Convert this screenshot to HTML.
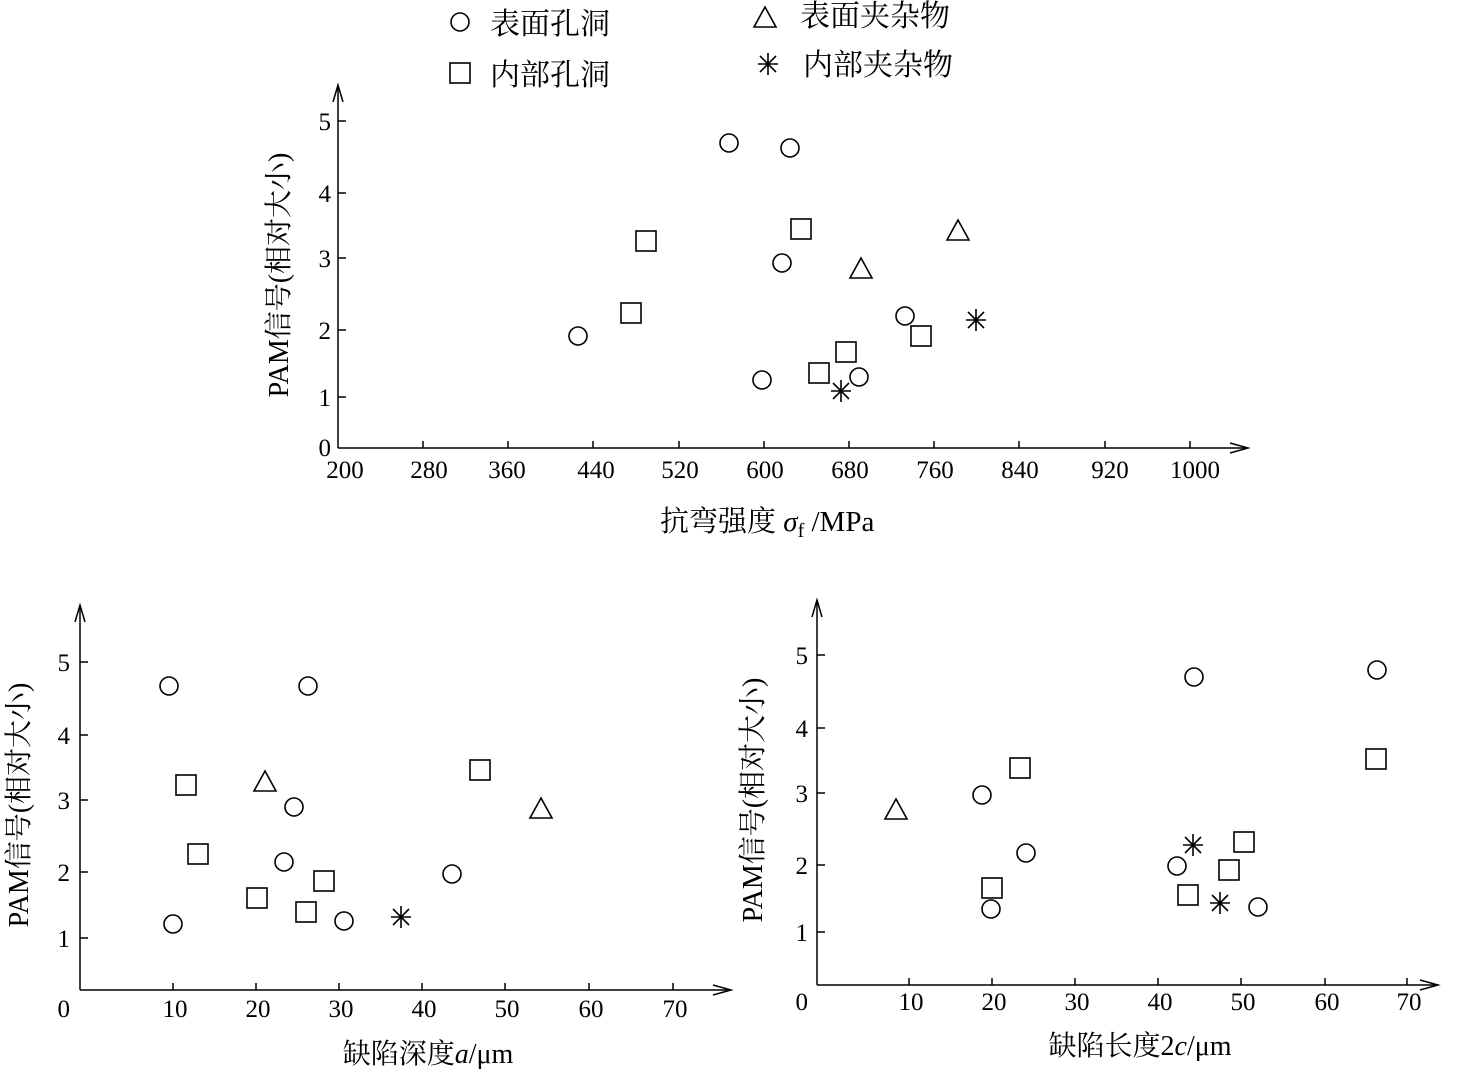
<!DOCTYPE html>
<html><head><meta charset="utf-8"><style>
html,body{margin:0;padding:0;background:#fff;}
svg text{font-family:"Liberation Serif","Noto Serif CJK SC",serif;fill:#000;}
</style></head><body>
<svg width="1465" height="1070" viewBox="0 0 1465 1070" xmlns="http://www.w3.org/2000/svg">
<defs>
<g id="c"><circle r="9" fill="none" stroke="#000" stroke-width="1.6"/></g>
<g id="s"><rect x="-10" y="-10" width="20" height="20" fill="none" stroke="#000" stroke-width="1.6"/></g>
<g id="t"><polygon points="0,-11 11,9 -11,9" fill="none" stroke="#000" stroke-width="1.6"/></g>
<g id="x" stroke="#000" stroke-width="1.6"><line x1="-10" y1="0" x2="10" y2="0"/><line x1="0" y1="-11" x2="0" y2="11"/><line x1="-8" y1="-8" x2="8" y2="8"/><line x1="-8" y1="8" x2="8" y2="-8"/></g>
</defs>

<!-- legend -->
<use href="#c" x="460" y="22"/><text x="490" y="34" font-size="30">表面孔洞</text>
<use href="#s" x="460" y="73"/><text x="490" y="85" font-size="30">内部孔洞</text>
<use href="#t" x="765" y="18"/><text x="800" y="26" font-size="30">表面夹杂物</text>
<use href="#x" x="768" y="64"/><text x="803" y="75" font-size="30">内部夹杂物</text>

<!-- top chart -->
<g stroke="#000" stroke-width="1.5" fill="none">
<line x1="338" y1="448" x2="338" y2="88"/><polyline points="333,102 338,85 343,102"/>
<line x1="338" y1="448" x2="1245" y2="448"/><polyline points="1230,443 1248,448 1230,453"/>
<line x1="338" y1="397" x2="346" y2="397"/><line x1="338" y1="330" x2="346" y2="330"/><line x1="338" y1="258" x2="346" y2="258"/><line x1="338" y1="193" x2="346" y2="193"/><line x1="338" y1="121" x2="346" y2="121"/>
<line x1="423" y1="448" x2="423" y2="441"/><line x1="508" y1="448" x2="508" y2="441"/><line x1="593" y1="448" x2="593" y2="441"/><line x1="679" y1="448" x2="679" y2="441"/><line x1="764" y1="448" x2="764" y2="441"/><line x1="849" y1="448" x2="849" y2="441"/><line x1="934" y1="448" x2="934" y2="441"/><line x1="1019" y1="448" x2="1019" y2="441"/><line x1="1105" y1="448" x2="1105" y2="441"/><line x1="1190" y1="448" x2="1190" y2="441"/>
</g>
<g font-size="25" text-anchor="end">
<text x="331" y="456">0</text><text x="331" y="406">1</text><text x="331" y="339">2</text><text x="331" y="267">3</text><text x="331" y="202">4</text><text x="331" y="130">5</text>
</g>
<g font-size="25" text-anchor="middle">
<text x="345" y="478">200</text><text x="429" y="478">280</text><text x="507" y="478">360</text><text x="596" y="478">440</text><text x="680" y="478">520</text><text x="765" y="478">600</text><text x="850" y="478">680</text><text x="935" y="478">760</text><text x="1020" y="478">840</text><text x="1110" y="478">920</text><text x="1195" y="478">1000</text>
</g>
<text x="660" y="531" font-size="29">抗弯强度 <tspan font-style="italic">σ</tspan><tspan font-size="20" dy="6">f</tspan><tspan dy="-6"> /MPa</tspan></text>
<text transform="translate(288,275) rotate(-90)" font-size="28" text-anchor="middle">PAM信号(相对大小)</text>
<use href="#c" x="578" y="336"/><use href="#c" x="729" y="143"/><use href="#c" x="790" y="148"/><use href="#c" x="782" y="263"/><use href="#c" x="762" y="380"/><use href="#c" x="859" y="377"/><use href="#c" x="905" y="316"/>
<use href="#s" x="646" y="241"/><use href="#s" x="801" y="229"/><use href="#s" x="631" y="313"/><use href="#s" x="846" y="352"/><use href="#s" x="819" y="373"/><use href="#s" x="921" y="336"/>
<use href="#t" x="958" y="231"/><use href="#t" x="861" y="269"/>
<use href="#x" x="976" y="320"/><use href="#x" x="841" y="391"/>

<!-- bottom left -->
<g stroke="#000" stroke-width="1.5" fill="none">
<line x1="80" y1="990" x2="80" y2="608"/><polyline points="75,622 80,605 85,622"/>
<line x1="80" y1="990" x2="728" y2="990"/><polyline points="713,985 731,990 713,995"/>
<line x1="80" y1="938" x2="88" y2="938"/><line x1="80" y1="872" x2="88" y2="872"/><line x1="80" y1="800" x2="88" y2="800"/><line x1="80" y1="735" x2="88" y2="735"/><line x1="80" y1="662" x2="88" y2="662"/>
<line x1="173" y1="990" x2="173" y2="983"/><line x1="256" y1="990" x2="256" y2="983"/><line x1="339" y1="990" x2="339" y2="983"/><line x1="422" y1="990" x2="422" y2="983"/><line x1="505" y1="990" x2="505" y2="983"/><line x1="589" y1="990" x2="589" y2="983"/><line x1="673" y1="990" x2="673" y2="983"/>
</g>
<g font-size="25" text-anchor="end">
<text x="70" y="1017">0</text><text x="70" y="947">1</text><text x="70" y="881">2</text><text x="70" y="809">3</text><text x="70" y="744">4</text><text x="70" y="671">5</text>
</g>
<g font-size="25" text-anchor="middle">
<text x="175" y="1017">10</text><text x="258" y="1017">20</text><text x="341" y="1017">30</text><text x="424" y="1017">40</text><text x="507" y="1017">50</text><text x="591" y="1017">60</text><text x="675" y="1017">70</text>
</g>
<text x="428" y="1063" font-size="28" text-anchor="middle">缺陷深度<tspan font-style="italic">a</tspan>/μm</text>
<text transform="translate(28,805) rotate(-90)" font-size="28" text-anchor="middle">PAM信号(相对大小)</text>
<use href="#c" x="169" y="686"/><use href="#c" x="308" y="686"/><use href="#c" x="294" y="807"/><use href="#c" x="284" y="862"/><use href="#c" x="452" y="874"/><use href="#c" x="173" y="924"/><use href="#c" x="344" y="921"/>
<use href="#s" x="186" y="785"/><use href="#s" x="198" y="854"/><use href="#s" x="480" y="770"/><use href="#s" x="324" y="881"/><use href="#s" x="257" y="898"/><use href="#s" x="306" y="912"/>
<use href="#t" x="265" y="782"/><use href="#t" x="541" y="809"/>
<use href="#x" x="401" y="917"/>

<!-- bottom right -->
<g stroke="#000" stroke-width="1.5" fill="none">
<line x1="817" y1="985" x2="817" y2="603"/><polyline points="812,617 817,600 822,617"/>
<line x1="817" y1="985" x2="1435" y2="985"/><polyline points="1420,980 1438,985 1420,990"/>
<line x1="817" y1="932" x2="825" y2="932"/><line x1="817" y1="865" x2="825" y2="865"/><line x1="817" y1="793" x2="825" y2="793"/><line x1="817" y1="728" x2="825" y2="728"/><line x1="817" y1="655" x2="825" y2="655"/>
<line x1="909" y1="985" x2="909" y2="978"/><line x1="992" y1="985" x2="992" y2="978"/><line x1="1075" y1="985" x2="1075" y2="978"/><line x1="1158" y1="985" x2="1158" y2="978"/><line x1="1241" y1="985" x2="1241" y2="978"/><line x1="1325" y1="985" x2="1325" y2="978"/><line x1="1407" y1="985" x2="1407" y2="978"/>
</g>
<g font-size="25" text-anchor="end">
<text x="808" y="1010">0</text><text x="808" y="941">1</text><text x="808" y="874">2</text><text x="808" y="802">3</text><text x="808" y="737">4</text><text x="808" y="664">5</text>
</g>
<g font-size="25" text-anchor="middle">
<text x="911" y="1010">10</text><text x="994" y="1010">20</text><text x="1077" y="1010">30</text><text x="1160" y="1010">40</text><text x="1243" y="1010">50</text><text x="1327" y="1010">60</text><text x="1409" y="1010">70</text>
</g>
<text x="1140" y="1055" font-size="28" text-anchor="middle">缺陷长度2<tspan font-style="italic">c</tspan>/μm</text>
<text transform="translate(762,800) rotate(-90)" font-size="28" text-anchor="middle">PAM信号(相对大小)</text>
<use href="#c" x="1194" y="677"/><use href="#c" x="1377" y="670"/><use href="#c" x="982" y="795"/><use href="#c" x="1026" y="853"/><use href="#c" x="1177" y="866"/><use href="#c" x="991" y="909"/><use href="#c" x="1258" y="907"/>
<use href="#s" x="1020" y="768"/><use href="#s" x="1376" y="759"/><use href="#s" x="992" y="888"/><use href="#s" x="1244" y="842"/><use href="#s" x="1229" y="870"/><use href="#s" x="1188" y="895"/>
<use href="#t" x="896" y="810"/>
<use href="#x" x="1193" y="845"/><use href="#x" x="1220" y="903"/>
</svg>
</body></html>
